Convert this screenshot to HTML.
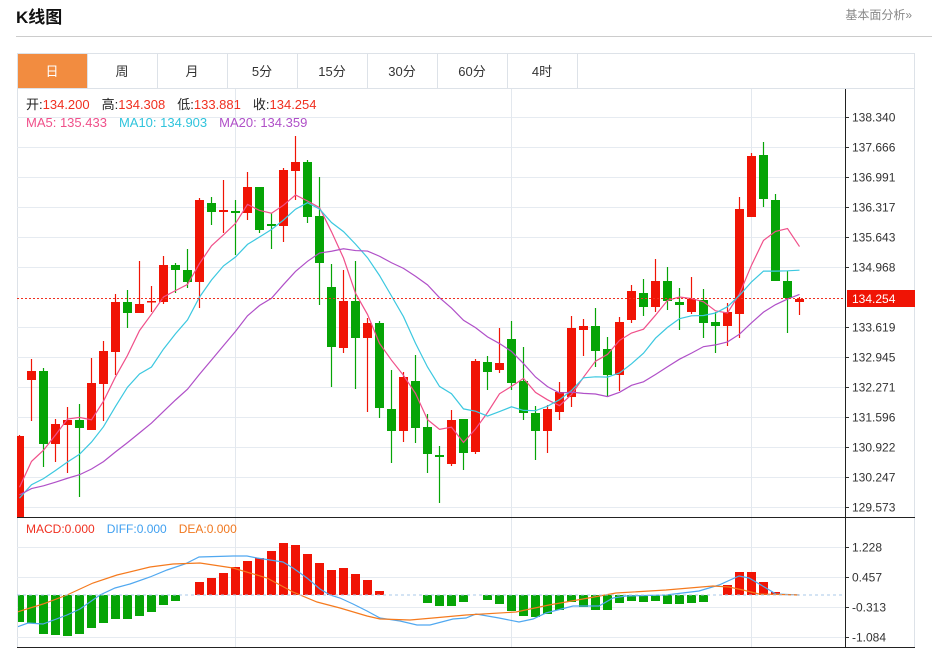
<!DOCTYPE html>
<html><head><meta charset="utf-8">
<style>
body{margin:0;width:932px;height:648px;background:#fff;overflow:hidden;font-family:"Liberation Sans","Noto Sans CJK SC",sans-serif;}
svg{position:absolute;left:0;top:0}
</style></head><body>
<svg id="s" width="932" height="648" xmlns="http://www.w3.org/2000/svg" font-family="Liberation Sans, Noto Sans CJK SC, sans-serif">
<text x="16" y="23" font-size="17" font-weight="bold" fill="#111">K线图</text>
<text x="912" y="19" font-size="12" fill="#888" text-anchor="end">基本面分析»</text>
<line x1="16" y1="36.5" x2="932" y2="36.5" stroke="#ccc"/>
<rect x="17.5" y="53.5" width="897" height="594" fill="none" stroke="#dde2e8"/>
<defs>
<clipPath id="cp"><rect x="17" y="89" width="828" height="428"/></clipPath>
<clipPath id="cp2"><rect x="18" y="518" width="827" height="129"/></clipPath>
</defs>
<g id="tabs"></g>
<g id="grid"></g>
<g id="plot"><g id="cg" clip-path="url(#cp)"></g><g id="mg" clip-path="url(#cp2)"></g></g>
<text x="26" y="109" font-size="13"><tspan fill="#222">开:</tspan><tspan fill="#f03020">134.200</tspan><tspan fill="#222" dx="12">高:</tspan><tspan fill="#f03020">134.308</tspan><tspan fill="#222" dx="12">低:</tspan><tspan fill="#f03020">133.881</tspan><tspan fill="#222" dx="12">收:</tspan><tspan fill="#f03020">134.254</tspan></text>
<text x="26" y="127" font-size="13"><tspan fill="#f0508a">MA5: 135.433</tspan><tspan fill="#30c4dc" dx="12">MA10: 134.903</tspan><tspan fill="#b050c8" dx="12">MA20: 134.359</tspan></text>
<text x="26" y="533" font-size="12"><tspan fill="#f03020">MACD:0.000</tspan><tspan fill="#40a0f0" dx="12">DIFF:0.000</tspan><tspan fill="#f07820" dx="12">DEA:0.000</tspan></text>
</svg>
<script>
const NS="http://www.w3.org/2000/svg";
function el(p,t,a,txt){const e=document.createElementNS(NS,t);for(const k in a)e.setAttribute(k,a[k]);if(txt!==undefined)e.textContent=txt;document.getElementById(p).appendChild(e);return e;}
const tabs=["日","周","月","5分","15分","30分","60分","4时"];
tabs.forEach((t,i)=>{const x=17+i*70;
 el("tabs","rect",{x:x+0.5,y:53.5,width:70,height:35,fill:i==0?"#f28c40":"#fff",stroke:"#dde2e8"});
 el("tabs","text",{x:x+35,y:76,"font-size":13,"text-anchor":"middle",fill:i==0?"#fff":"#333"},t);});
el("tabs","line",{x1:17,y1:88.5,x2:915,y2:88.5,stroke:"#dde2e8"});
const pl=["138.340","137.666","136.991","136.317","135.643","134.968","","133.619","132.945","132.271","131.596","130.922","130.247","129.573"];
for(let i=0;i<14;i++){const y=117+i*30;if(i!=6)el("grid","line",{x1:17,y1:y+.5,x2:845,y2:y+.5,stroke:"#e6ebf1"});
 if(pl[i]){el("grid","line",{x1:845,y1:y+.5,x2:849,y2:y+.5,stroke:"#333"});el("grid","text",{x:852,y:y+4.5,"font-size":12,fill:"#333"},pl[i]);}}
[547,577,607,637].forEach((y,i)=>{el("grid","line",{x1:17,y1:y+.5,x2:845,y2:y+.5,stroke:"#e6ebf1"});
 el("grid","line",{x1:845,y1:y+.5,x2:849,y2:y+.5,stroke:"#333"});
 el("grid","text",{x:852,y:y+4.5,"font-size":12,fill:"#333"},["1.228","0.457","-0.313","-1.084"][i]);});
[235,511,751].forEach(x=>el("grid","line",{x1:x+.5,y1:89,x2:x+.5,y2:647,stroke:"#e3e8ee"}));
el("grid","line",{x1:17,y1:517.5,x2:915,y2:517.5,stroke:"#222"});
el("grid","line",{x1:17,y1:647.5,x2:915,y2:647.5,stroke:"#222"});
el("grid","line",{x1:845.5,y1:89,x2:845.5,y2:648,stroke:"#222"});
const C=[
["r",436,517,435,517],["r",371,380,359,421],["g",371,444,368,467],["r",424,444,419,462],["r",420,425,407,473],["g",420,428,404,497],
["r",383,430,358,430],["r",351,384,341,421],["r",302,352,294,375],["g",302,313,290,328],["r",304,313,261,313],["r",301,302,286,312],
["r",265,302,256,304],["g",265,270,263,293],["g",270,282,249,288],["r",200,282,198,308],["g",203,212,197,225],["r",210,212,180,233],
["g",211,213,200,255],["r",187,213,172,220],["g",187,230,187,233],["g",224,226,213,249],["r",170,226,168,242],["r",162,171,136,200],
["g",162,217,160,223],["g",216,263,177,305],["g",287,347,264,387],["r",301,348,270,353],["g",301,338,261,389],["r",323,338,318,412],
["g",323,408,321,418],["g",409,431,370,463],["r",377,431,372,442],["g",381,428,355,443],["g",427,454,414,473],["g",455,457,446,503],
["r",420,464,410,466],["g",419,453,419,470],["r",361,452,359,454],["g",362,372,356,390],["r",363,370,328,373],["g",339,383,321,390],
["g",381,413,347,420],["g",413,431,406,460],["r",409,431,405,453],["r",392,412,382,420],["r",328,397,316,407],["r",326,330,319,356],
["g",326,351,308,367],["g",349,375,337,397],["r",322,375,317,391],["r",291,320,285,323],["g",293,307,279,316],["r",281,307,259,312],
["g",281,301,267,310],["g",302,305,288,330],["r",299,312,277,314],["g",300,323,289,338],["g",322,326,312,353],["r",312,326,303,346],
["r",209,314,197,338],["r",156,217,153,217],["g",155,199,142,207],["g",200,281,194,281],["g",281,298,271,333],["r",299,302,297,315]];
const RED="#f01405",GRN="#06a406";
const xs=i=>19.5+12*i;
const closes=[];
C.forEach((c,i)=>{const x=xs(i),col=c[0]=="r"?RED:GRN;
 el("cg","line",{x1:x,y1:c[3],x2:x,y2:c[4],stroke:col,"stroke-width":1.2});
 el("cg","rect",{x:x-4.5,y:c[1],width:9,height:Math.max(1.5,c[2]-c[1]),fill:col});
 closes.push(c[0]=="r"?c[1]:c[2]);});
function ma(n,pad){const a=[];for(let i=0;i<closes.length;i++){let s=0;for(let k=i-n+1;k<=i;k++)s+=k<0?pad:closes[k];a.push(s/n);}return a;}
function pline(par,pts,col,w){el(par,"polyline",{points:pts.map(p=>p[0]+","+p[1]).join(" "),fill:"none",stroke:col,"stroke-width":w||1.2});}
pline("cg",ma(5,500).map((v,i)=>[xs(i),v]),"#f0508a");
pline("cg",ma(10,505).map((v,i)=>[xs(i),v]),"#3cc8e0");
pline("cg",ma(20,498).map((v,i)=>[xs(i),v]),"#b050c8");
el("plot","line",{x1:17,y1:298.5,x2:845,y2:298.5,stroke:"#f03020","stroke-dasharray":"2,2"});
el("plot","rect",{x:847,y:290,width:68,height:17,fill:"#f01405"});
el("plot","text",{x:852,y:303,"font-size":12,fill:"#fff"},"134.254");
const H=[622,623,634,635,636,634,628,623,619,619,616,612,605,601,594,582,578,573,567,561,558,551,543,545,554,563,570,568,574,580,591,594,594,594,603,606,606,602,595,600,604,611,616,617,614,610,602,607,610,610,603,601,602,601,604,604,603,602,596,585,572,572,582,592,594,594];
const Z=595;
el("plot","line",{x1:17,y1:Z,x2:845,y2:Z,stroke:"#a8c8e8","stroke-dasharray":"3,3"});
H.forEach((h,i)=>{const x=xs(i);if(Math.abs(h-Z)<1.5)return;
 el("mg","rect",{x:x-4.5,y:Math.min(h,Z),width:9,height:Math.abs(h-Z),fill:h<Z?RED:GRN});});
pline("mg",[[17,627],[28,623],[43,624],[67,615],[80,609],[100,595],[115,588],[130,584],[150,577],[167,570],[185,564],[199,557],[233,556],[247,556],[257,558],[283,562],[293,568],[307,578],[320,589],[330,595],[340,598],[353,604],[367,611],[380,618],[400,621],[417,625],[430,625],[453,619],[466,618],[476,614],[499,618],[519,622],[533,619],[546,613],[573,606],[599,606],[613,598],[626,596],[666,595],[699,591],[719,585],[739,576],[749,578],[766,588],[776,594],[799,595]],"#50a8f0");
pline("mg",[[17,612],[43,604],[67,595],[93,583],[117,575],[150,567],[173,564],[200,563],[233,568],[267,578],[293,592],[317,602],[340,608],[367,616],[380,619],[410,620],[433,618],[466,615],[516,612],[549,605],[583,599],[616,593],[666,590],[713,586],[729,587],[743,590],[759,594],[799,595]],"#f57a1e");
</script>
</body></html>
